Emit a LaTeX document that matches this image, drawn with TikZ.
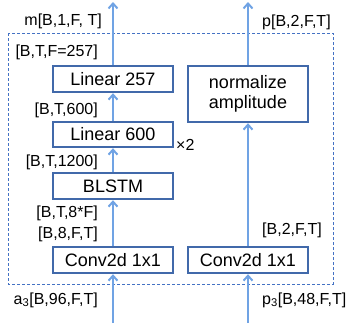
\documentclass[tikz,border=0pt]{standalone}
\usepackage{fontspec}
\setmainfont{Liberation Sans}
\usepackage{xcolor}
\usetikzlibrary{positioning}
\usetikzlibrary{arrows.meta}
\definecolor{boxblue}{RGB}{65,105,170}
\definecolor{flowblue}{RGB}{112,163,228}
\definecolor{dashblue}{RGB}{68,114,196}
\tikzset{>={Straight Barb[length=5pt,width=9pt]}}

\begin{document}
\begin{tikzpicture}[x=1pt, y=-1pt,
            layer/.style={draw=boxblue, line width=2.4pt, minimum width=120pt, minimum height=26pt, inner sep=0pt, font=\fontsize{18}{21}\selectfont},
            dimlabel/.style={font=\fontsize{16}{18}\selectfont, inner sep=0pt},
            flow/.style={->, draw=flowblue, line width=2pt}
        ]
            \useasboundingbox (0, 0) rectangle (347, 327);
            \draw[dashblue, line width=0.8pt, dash pattern=on 3pt off 2pt] (8, 33) rectangle (333, 284);
            % mask branch
            \node[layer] (linb) at (113, 79) {Linear 257};
            \node[layer, minimum height=25pt] (lina) at (113, 134.5) {Linear 600};
            \node[layer] (blstm) at (113, 186) {BLSTM};
            \node[layer] (convm) at (113, 260) {Conv2d 1x1};
            % phase branch
            \node[layer, minimum height=56pt, align=center] (norm) at (248, 94) {normalize\\[-1pt]amplitude};
            \node[layer] (convp) at (248, 260) {Conv2d 1x1};
            \coordinate (mout) at (113, 2);
            \coordinate (pout) at (248, 2);
            \coordinate (ain) at (113, 323);
            \coordinate (pin) at (248, 323);
            % label
            \node[dimlabel, anchor=east] at (102, 21) {m[B,1,F, T]};
            \node[dimlabel, anchor=east] at (98, 52) {[B,T,F=257]};
            \node[dimlabel, anchor=east] at (98, 110) {[B,T,600]};
            \node[dimlabel, anchor=east] at (98, 162) {[B,T,1200]};
            \node[dimlabel, anchor=east] at (98, 213) {[B,T,8*F]};
            \node[dimlabel, anchor=east] at (98, 234) {[B,8,F,T]};
            \node[dimlabel, anchor=east] at (98, 300) {a\textsubscript{3}[B,96,F,T]};
            \node[dimlabel, anchor=west] at (176, 145) {×2};
            \node[dimlabel, anchor=west] at (262, 22) {p[B,2,F,T]};
            \node[dimlabel, anchor=west] at (262, 230) {[B,2,F,T]};
            \node[dimlabel, anchor=west] at (262, 300) {p\textsubscript{3}[B,48,F,T]};
            % paths
            \draw[flow] (ain) -- (convm);
            \draw[flow] (convm) -- (blstm);
            \draw[flow] (blstm) -- (lina);
            \draw[flow] (lina) -- (linb);
            \draw[flow] (linb) -- (mout);
            \draw[flow] (pin) -- (convp);
            \draw[flow] (convp) -- (norm);
            \draw[flow] (norm) -- (pout);
        \end{tikzpicture}
\end{document}
